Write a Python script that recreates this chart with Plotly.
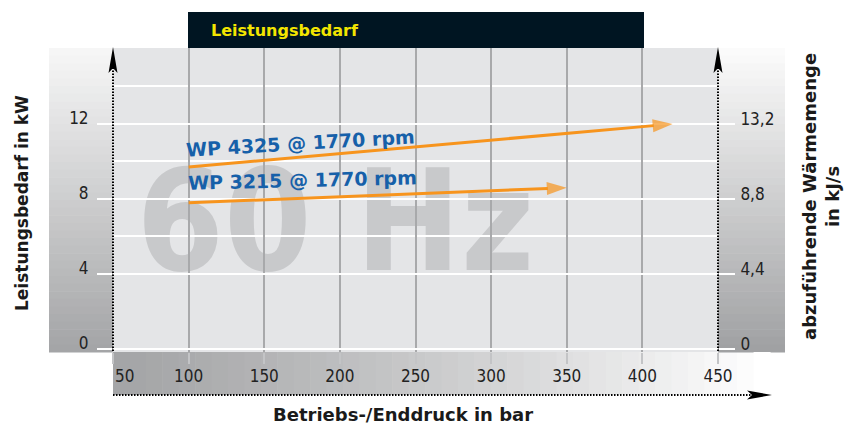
import plotly.graph_objects as go

# Daten
x_ticks = [50, 100, 150, 200, 250, 300, 350, 400, 450]
y_ticks = [0, 4, 8, 12]
y_minor = [6, 10, 14]
y2_ticks = [0, 4.4, 8.8, 13.2]
y2_labels = ['0', '4,4', '8,8', '13,2']

wp4325_x = [100, 420]
wp4325_y = [9.7, 12.0]
wp3215_x = [100, 350]
wp3215_y = [7.8, 8.6]

label_4325 = 'WP 4325 @ 1770 rpm'
label_3215 = 'WP 3215 @ 1770 rpm'
watermark = '60 Hz'

# Seite hat 8px body-Rand -> Figur entsprechend kleiner und verschoben
OFF = 8
W, H = 856, 427
L, R, T, B = 113, 718, 48, 352   # Plotbereich in Bildpixeln


def px(x):
    return (x - L) / (R - L)


def py(y):
    return (B - y) / (B - T)


def mix(c1, c2, t):
    return 'rgb(%d,%d,%d)' % tuple(round(a + (b - a) * t) for a, b in zip(c1, c2))


COND = 'DejaVu Sans Condensed, Liberation Sans Narrow, Roboto, sans-serif'
BOLD = 'DejaVu Sans, Liberation Sans, sans-serif'
ORANGE = '#f7941d'
BLUE = '#1660a9'

yr = [-0.16, 16.05]

fig = go.Figure()

# Wasserzeichen (unterste Ebene, unter dem Raster)
fig.add_trace(go.Scatter(
    x=[197], y=[6.1], mode='text', text=[watermark],
    textfont=dict(family=COND, size=140, color='#c8c9cb', weight='bold'),
    xaxis='x', yaxis='y', showlegend=False, hoverinfo='skip'))

for xs, ys in [(wp4325_x, wp4325_y), (wp3215_x, wp3215_y)]:
    fig.add_trace(go.Scatter(
        x=xs, y=ys, mode='lines+markers', xaxis='x2', yaxis='y2',
        line=dict(color=ORANGE, width=3),
        marker=dict(symbol='arrow', size=[0, 21], angleref='previous',
                    color=ORANGE, line=dict(width=0)),
        showlegend=False, hoverinfo='skip', cliponaxis=False))

fig.add_trace(go.Scatter(x=[None], y=[None], xaxis='x2', yaxis='y3', showlegend=False))

shapes = []
# Plotfläche
shapes.append(dict(type='rect', xref='paper', yref='paper', layer='below',
                   x0=0, x1=1, y0=0, y1=1, fillcolor='#e4e5e7', line_width=0))
# Verlaufsbänder
n = 40
for i in range(n):
    t = i / (n - 1)
    y0 = T + (B - T) * i / n
    y1 = T + (B - T) * (i + 1) / n + 0.6
    shapes.append(dict(type='rect', xref='paper', yref='paper', layer='below',
                       x0=px(49), x1=px(L), y0=py(y0), y1=py(y1), line_width=0,
                       fillcolor=mix((246, 246, 246), (164, 165, 167), t)))
    shapes.append(dict(type='rect', xref='paper', yref='paper', layer='below',
                       x0=px(R), x1=px(785), y0=py(y0), y1=py(y1), line_width=0,
                       fillcolor=mix((251, 251, 251), (160, 161, 163), t)))
    x0 = L + (770 - L) * i / n
    x1 = L + (770 - L) * (i + 1) / n + 0.6
    shapes.append(dict(type='rect', xref='paper', yref='paper', layer='below',
                       x0=px(x0), x1=px(x1), y0=py(B), y1=py(395), line_width=0,
                       fillcolor=mix((164, 165, 167), (255, 255, 255), t ** 1.2)))

# Titelbalken
shapes.append(dict(type='rect', xref='paper', yref='paper', x0=px(188), x1=px(644),
                   y0=py(12), y1=py(T), fillcolor='#001522', line_width=0))

# gepunktete Achsen
dot = dict(color='black', width=2, dash='1.5px,1.5px')
shapes.append(dict(type='line', xref='paper', yref='paper', x0=px(L), x1=px(L),
                   y0=py(351), y1=py(66), line=dot))
shapes.append(dict(type='line', xref='paper', yref='paper', x0=px(R), x1=px(R),
                   y0=py(351), y1=py(66), line=dot))
shapes.append(dict(type='line', xref='paper', yref='paper', x0=px(L), x1=px(752),
                   y0=py(395), y1=py(395), line=dot))


def head(pts):
    return 'M' + 'L'.join('%f,%f' % (px(a), py(b)) for a, b in pts) + 'Z'


for xa in (L, R):
    shapes.append(dict(type='path', xref='paper', yref='paper', fillcolor='black', line_width=0,
                       path=head([(xa, 47), (xa + 4.5, 73), (xa, 68), (xa - 4.5, 73)])))
shapes.append(dict(type='path', xref='paper', yref='paper', fillcolor='black', line_width=0,
                   path=head([(772, 395), (747, 390.5), (752, 395), (747, 399.5)])))

title_font = dict(family=BOLD, size=18, color='#1a1a1a', weight='bold')
annotations = [
    dict(text='Leistungsbedarf', xref='paper', yref='paper', x=px(209), y=py(30),
         xanchor='left', yanchor='middle', showarrow=False,
         font=dict(family=BOLD, size=16, color='#f3e500', weight='bold')),
    dict(text='Leistungsbedarf in kW', xref='paper', yref='paper', x=px(22), y=py(203),
         xanchor='center', yanchor='middle', textangle=-90, showarrow=False,
         font=dict(family=BOLD, size=17, color='#1a1a1a', weight='bold')),
    dict(text='abzuführende Wärmemenge<br>in kJ/s', xref='paper', yref='paper',
         x=px(821), y=py(197), xanchor='center', yanchor='middle',
         textangle=-90, showarrow=False, font=title_font),
    dict(text='Betriebs-/Enddruck in bar', xref='paper', yref='paper', x=px(403), y=py(414),
         xanchor='center', yanchor='middle', showarrow=False, font=title_font),
    dict(text=str(x_ticks[0]), xref='x2', yref='paper', x=x_ticks[0], y=py(376),
         xanchor='left', yanchor='middle', showarrow=False,
         font=dict(family=COND, size=17, color='#222')),
    dict(text=label_4325, xref='x2', yref='y2', x=174, y=10.96, textangle=-3.4,
         xanchor='center', yanchor='middle', showarrow=False,
         font=dict(family=BOLD, size=19, color=BLUE, weight='bold')),
    dict(text=label_3215, xref='x2', yref='y2', x=175.3, y=8.99, textangle=-1.4,
         xanchor='center', yanchor='middle', showarrow=False,
         font=dict(family=BOLD, size=19, color=BLUE, weight='bold')),
]

tickfont = dict(family=COND, size=17, color='#222')

fig.update_layout(
    width=W - OFF, height=H - OFF,
    margin=dict(l=L - OFF, r=W - R, t=T - OFF, b=H - B, pad=0),
    paper_bgcolor='white', plot_bgcolor='rgba(0,0,0,0)',
    showlegend=False,
    shapes=shapes, annotations=annotations,
    xaxis=dict(domain=[0, 1], range=[50, 450], visible=False),
    yaxis=dict(domain=[0, 1], range=yr, visible=False),
    xaxis2=dict(domain=[0, 1], range=[50, 450], anchor='y2',
                tickvals=x_ticks, ticktext=[''] + [str(v) for v in x_ticks[1:]],
                showgrid=True, gridcolor='#a8a9ab', gridwidth=1.5,
                ticks='outside', ticklen=11, tickwidth=1.5, tickcolor='#c3c4c6',
                ticklabelstandoff=-2,
                tickfont=tickfont, zeroline=False, showline=False),
    yaxis2=dict(domain=[0, 1], range=yr, anchor='x2',
                tickvals=y_ticks, showgrid=True, gridcolor='white', gridwidth=2,
                minor=dict(tickvals=y_minor, showgrid=True, gridcolor='white', gridwidth=2),
                ticks='outside', ticklen=15, tickwidth=2, tickcolor='white',
                ticklabelstandoff=5, ticklabelshift=-6,
                tickfont=tickfont, zeroline=False, showline=False),
    yaxis3=dict(range=[v * 1.1 for v in yr], overlaying='y2', side='right', anchor='x2',
                tickvals=y2_ticks, ticktext=y2_labels, showgrid=False,
                ticks='outside', ticklen=16, tickwidth=2, tickcolor='white',
                ticklabelstandoff=2, ticklabelshift=-5,
                tickfont=tickfont, zeroline=False, showline=False),
)

fig.write_html('out.html')
